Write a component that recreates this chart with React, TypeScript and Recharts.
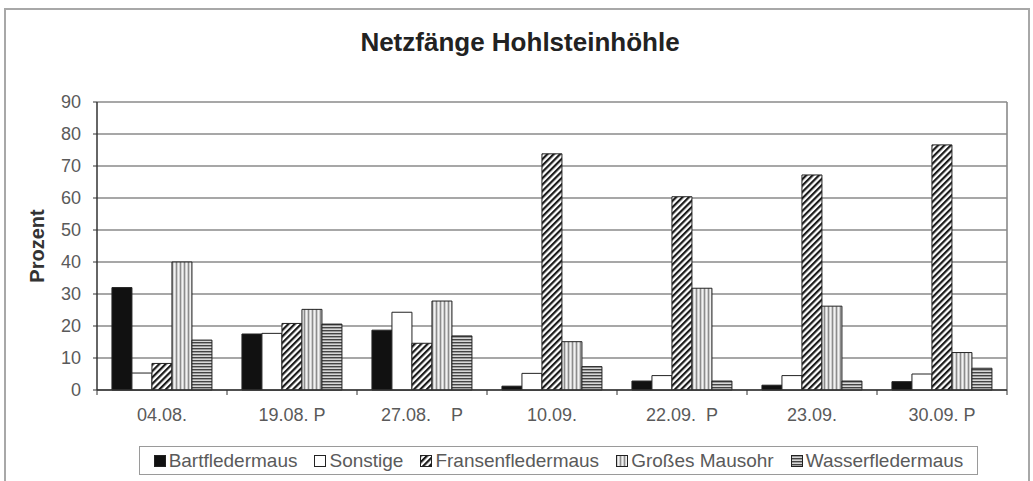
import React from "react";
import { Bar, BarChart, CartesianGrid, ReferenceLine, XAxis, YAxis } from "recharts";

// Netzfänge Hohlsteinhöhle – Anteile je Fangnacht (Prozent)
const dates = ["04.08.", "19.08. P", "27.08.    P", "10.09.", "22.09.  P", "23.09.", "30.09. P"];
const bartfledermaus = [32, 17.5, 18.7, 1.2, 2.8, 1.5, 2.6];
const sonstige = [5.3, 17.7, 24.3, 5.2, 4.5, 4.5, 5];
const fransenfledermaus = [8.3, 20.8, 14.6, 73.8, 60.4, 67.2, 76.6];
const grossesMausohr = [40, 25.2, 27.8, 15.1, 31.8, 26.2, 11.7];
const wasserfledermaus = [15.6, 20.6, 16.9, 7.3, 2.8, 2.8, 6.8];
const yTicks = [0, 10, 20, 30, 40, 50, 60, 70, 80, 90];

const series = [
  { key: "bart", name: "Bartfledermaus", fill: "#111111" },
  { key: "sonst", name: "Sonstige", fill: "#ffffff" },
  { key: "fransen", name: "Fransenfledermaus", fill: "url(#hatch)" },
  { key: "mausohr", name: "Großes Mausohr", fill: "url(#vlines)" },
  { key: "wasser", name: "Wasserfledermaus", fill: "url(#hlines)" },
];

const data = dates.map((d, i) => ({
  date: d,
  bart: bartfledermaus[i],
  sonst: sonstige[i],
  fransen: fransenfledermaus[i],
  mausohr: grossesMausohr[i],
  wasser: wasserfledermaus[i],
}));

const W = 1033;
const H = 481;
const margin = { top: 102, right: 26, bottom: 61, left: 37 };
const xAxisH = 30;
const plotBottom = H - margin.bottom - xAxisH;
const halfBand = (W - margin.left - 60 - margin.right) / dates.length / 2;
const font = "'Liberation Sans', Arial, sans-serif";

function Patterns() {
  return (
    <svg width={0} height={0} style={{ position: "absolute" }}>
      <defs>
        <pattern id="hatch" width="4.5" height="4.5" patternUnits="userSpaceOnUse" patternTransform="rotate(45)">
          <rect width="4.5" height="4.5" fill="#ffffff" />
          <rect width="2.2" height="4.5" fill="#1a1a1a" />
        </pattern>
        <pattern id="vlines" width="4" height="4" patternUnits="userSpaceOnUse">
          <rect width="4" height="4" fill="#cfcfcf" />
          <rect x="0" width="1" height="4" fill="#8c8c8c" />
          <rect x="2" width="1" height="4" fill="#f2f2f2" />
        </pattern>
        <pattern id="hlines" width="3" height="3" patternUnits="userSpaceOnUse">
          <rect width="3" height="3" fill="#d8d8d8" />
          <rect width="3" height="1.4" fill="#444444" />
        </pattern>
      </defs>
    </svg>
  );
}

function DateTick(props: any) {
  const { x, payload, index } = props;
  const off = payload?.offset ?? halfBand;
  const label = String(payload.value).replace(/ /g, "\u00A0");
  return (
    <g>
      <line x1={x - off} x2={x - off} y1={plotBottom} y2={plotBottom + 5} stroke="#333" strokeWidth={1} />
      {index === dates.length - 1 && (
        <line x1={x + off} x2={x + off} y1={plotBottom} y2={plotBottom + 5} stroke="#333" strokeWidth={1} />
      )}
      <text x={x} y={plotBottom + 31} textAnchor="middle" fontSize={18} fill="#5a5a5a" fontFamily={font}>
        {label}
      </text>
    </g>
  );
}

function YLabel(props: any) {
  const vb = props.viewBox || { x: margin.left, y: margin.top, height: plotBottom - margin.top };
  const cy = vb.y + vb.height / 2;
  return (
    <text
      x={37}
      y={cy}
      transform={`rotate(-90, 37, ${cy})`}
      textAnchor="middle"
      dominantBaseline="central"
      fontSize={20}
      fontWeight="bold"
      fill="#333"
      fontFamily={font}
    >
      Prozent
    </text>
  );
}

function Legend() {
  return (
    <div
      style={{
        position: "absolute",
        left: 139,
        top: 446,
        width: 839,
        height: 29,
        boxSizing: "border-box",
        border: "1.5px solid #9a9a9a",
        display: "flex",
        alignItems: "center",
        justifyContent: "center",
        gap: 17,
        fontFamily: font,
        fontSize: 19,
        color: "#5a5a5a",
        background: "#fff",
      }}
    >
      {series.map((s) => (
        <span key={s.key} style={{ display: "flex", alignItems: "center", gap: 3, whiteSpace: "nowrap" }}>
          <svg width={12} height={12}>
            <rect x={0.5} y={0.5} width={11} height={11} fill={s.fill} stroke="#222" strokeWidth={1} />
          </svg>
          {s.name}
        </span>
      ))}
    </div>
  );
}

export default function App() {
  return (
    <div
      style={{
        position: "absolute",
        left: 0,
        top: 0,
        width: W,
        height: H,
        overflow: "hidden",
        background: "#fff",
      }}
    >
      <Patterns />
      <div
        style={{
          position: "absolute",
          left: 4,
          top: 8,
          width: 1026,
          height: 500,
          boxSizing: "border-box",
          border: "2px solid #a8a8a8",
        }}
      />
      <div
        style={{
          position: "absolute",
          left: 0,
          top: 29,
          width: 1040,
          textAlign: "center",
          fontFamily: font,
          fontWeight: "bold",
          fontSize: 26,
          lineHeight: "26px",
          color: "#222",
        }}
      >
        Netzfänge Hohlsteinhöhle
      </div>
      <div style={{ position: "absolute", left: 0, top: 0 }}>
        <BarChart width={W} height={H} data={data} margin={margin} barCategoryGap="11.5%" barGap={0}>
          <CartesianGrid vertical={false} stroke="#8a8a8a" strokeWidth={1.6} />
          <XAxis
            dataKey="date"
            height={xAxisH}
            tickLine={false}
            axisLine={{ stroke: "#333", strokeWidth: 1.5 }}
            tick={<DateTick />}
            interval={0}
          />
          <YAxis
            width={60}
            domain={[0, 90]}
            ticks={yTicks}
            interval={0}
            tickSize={4}
            tickMargin={12}
            tickLine={{ stroke: "#333" }}
            axisLine={{ stroke: "#333", strokeWidth: 1.5 }}
            tick={{ fontSize: 18, fill: "#5a5a5a", fontFamily: font }}
            label={<YLabel />}
          />
          <ReferenceLine x={dates[dates.length - 1]} position="end" stroke="#8a8a8a" strokeWidth={1.6} />
          {series.map((s) => (
            <Bar
              key={s.key}
              dataKey={s.key}
              name={s.name}
              fill={s.fill}
              stroke="#222"
              strokeWidth={1}
              isAnimationActive={false}
            />
          ))}
        </BarChart>
      </div>
      <Legend />
    </div>
  );
}
